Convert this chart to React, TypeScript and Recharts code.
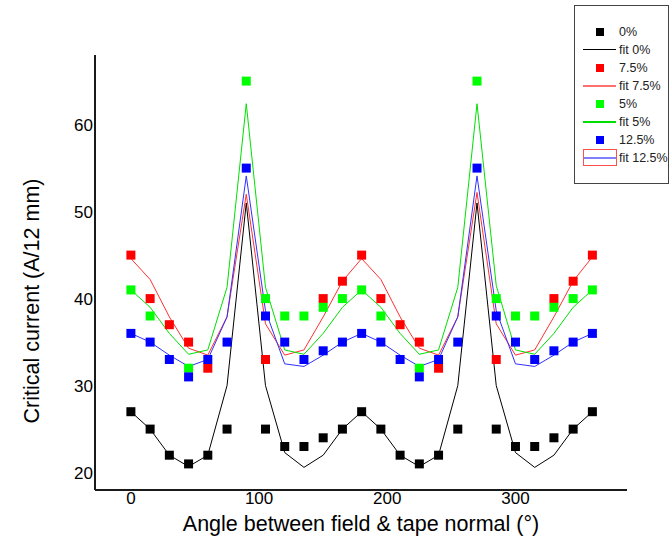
import React from "react";
import { ComposedChart, Line, Scatter, XAxis, YAxis, ZAxis, Legend } from "recharts";

// angle between field and tape normal, degrees
const angles = [0, 15, 30, 45, 60, 75, 90, 105, 120, 135, 150, 165, 180, 195, 210, 225, 240, 255, 270, 285, 300, 315, 330, 345, 360];

// measured critical current (null = point hidden behind another series)
const meas0 = [27, 25, 22, 21, 22, 25, null, 25, 23, 23, 24, 25, 27, 25, 22, 21, 22, 25, null, 25, 23, 23, 24, 25, 27];
const meas75 = [45, 40, 37, 35, 32, null, null, 33, null, null, 40, 42, 45, 40, 37, 35, 32, null, null, 33, null, null, 40, 42, 45];
const meas5 = [41, 38, null, 32, null, null, 65, 40, 38, 38, 39, 40, 41, 38, null, 32, null, null, 65, 40, 38, 38, 39, 40, 41];
const meas125 = [36, 35, 33, 31, 33, 35, 55, 38, 35, 33, 34, 35, 36, 35, 33, 31, 33, 35, 55, 38, 35, 33, 34, 35, 36];

// fitted curves
const fit0 = [27, 25, 22, 20.7, 22, 30, 51, 30, 22.3, 20.6, 22, 25, 27, 25, 22, 20.7, 22, 30, 51, 30, 22.3, 20.6, 22, 25, 27];
const fit75 = [44.6, 42.2, 37.9, 34.3, 33.5, 37.9, 52, 37.1, 33.5, 34.1, 37.9, 42, 44.6, 42.2, 37.9, 34.3, 33.5, 37.9, 52.2, 37.1, 33.5, 34.1, 37.9, 42, 44.8];
const fit5 = [41, 39, 36, 33.6, 34.1, 41.3, 62.4, 41.3, 34.1, 33.6, 36, 39, 41, 39, 36, 33.6, 34.1, 41.3, 62.4, 41.5, 34.1, 33.6, 36, 39, 41];
const fit125 = [36, 35, 33.5, 32.2, 33, 37.9, 54.1, 38.6, 32.5, 32.2, 33.5, 35, 36, 35, 33.5, 32.2, 33, 37.9, 54.1, 38.6, 32.5, 32.2, 33.5, 35, 36];

const xTicks = [0, 100, 200, 300];
const yTicks = [20, 30, 40, 50, 60];

const legendItems = [
  { label: "0%", kind: "square", color: "#000000" },
  { label: "fit 0%", kind: "line", color: "#000000" },
  { label: "7.5%", kind: "square", color: "#ff0000" },
  { label: "fit 7.5%", kind: "line", color: "#ff7070" },
  { label: "5%", kind: "square", color: "#00ff00" },
  { label: "fit 5%", kind: "line", color: "#00e000" },
  { label: "12.5%", kind: "square", color: "#0000ff" },
  { label: "fit 12.5%", kind: "boxed", color: "#8080ff" },
];

const font = "'Liberation Sans', Arial, sans-serif";

const table = angles.map((a, i) => ({
  angle: a,
  fit0: fit0[i],
  fit75: fit75[i],
  fit5: fit5[i],
  fit125: fit125[i],
}));

const points = (vals: (number | null)[]) =>
  angles.map((a, i) => ({ angle: a, value: vals[i] })).filter((d) => d.value !== null);

function LegendBox() {
  return (
    <div
      style={{
        position: "relative",
        width: 95,
        height: 179,
        border: "1px solid #444",
        boxSizing: "border-box",
        background: "#fff",
        fontFamily: font,
        fontSize: 12.5,
        color: "#222",
      }}
    >
      {legendItems.map((item, i) => {
        const top = 17 + i * 18;
        const thick = item.color === "#000000" ? 1 : 2;
        return (
          <div key={item.label} style={{ position: "absolute", left: 0, top, width: 93, height: 18 }}>
            {item.kind === "square" && (
              <div style={{ position: "absolute", left: 21, top: 5, width: 8, height: 8, background: item.color }} />
            )}
            {item.kind === "line" && (
              <div style={{ position: "absolute", left: 8, top: 8, width: 33, height: thick, background: item.color }} />
            )}
            {item.kind === "boxed" && (
              <div
                style={{
                  position: "absolute",
                  left: 8,
                  top: 0,
                  width: 34,
                  height: 17,
                  border: "1px solid #ff5050",
                  boxSizing: "border-box",
                }}
              >
                <div style={{ position: "absolute", left: 0, top: 7, width: 32, height: 2, background: item.color }} />
              </div>
            )}
            <span style={{ position: "absolute", left: 44, top: 2, whiteSpace: "nowrap", lineHeight: "14px" }}>
              {item.label}
            </span>
          </div>
        );
      })}
    </div>
  );
}

export default function App() {
  return (
    <div style={{ position: "absolute", left: 0, top: 0, width: 670, height: 541, background: "#fff" }}>
      <ComposedChart width={670} height={541} data={table} margin={{ top: 55, right: 43, bottom: 21, left: 35 }}>
        <XAxis
          type="number"
          dataKey="angle"
          domain={[-28, 387]}
          ticks={xTicks}
          height={30}
          axisLine={{ stroke: "#1a1a1a", strokeWidth: 2 }}
          tickLine={false}
          tickSize={0}
          tickMargin={2}
          tick={{ fill: "#000", fontSize: 17, fontFamily: font }}
        />
        <YAxis
          type="number"
          domain={[18, 68]}
          ticks={yTicks}
          width={60}
          axisLine={{ stroke: "#1a1a1a", strokeWidth: 2 }}
          tickLine={false}
          tickSize={0}
          tickMargin={2}
          tick={{ fill: "#000", fontSize: 17, fontFamily: font }}
        />
        <ZAxis range={[81, 81]} />
        <Scatter data={points(meas0)} dataKey="value" fill="#000000" shape="square" isAnimationActive={false} />
        <Line dataKey="fit0" stroke="#000000" strokeWidth={1} dot={false} isAnimationActive={false} />
        <Scatter data={points(meas75)} dataKey="value" fill="#ff0000" shape="square" isAnimationActive={false} />
        <Line dataKey="fit75" stroke="#ff3030" strokeWidth={1} dot={false} isAnimationActive={false} />
        <Scatter data={points(meas5)} dataKey="value" fill="#00ff00" shape="square" isAnimationActive={false} />
        <Line dataKey="fit5" stroke="#00e000" strokeWidth={1} dot={false} isAnimationActive={false} />
        <Scatter data={points(meas125)} dataKey="value" fill="#0000ff" shape="square" isAnimationActive={false} />
        <Line dataKey="fit125" stroke="#3030ff" strokeWidth={1} dot={false} isAnimationActive={false} />
        <Legend
          layout="vertical"
          align="center"
          verticalAlign="middle"
          wrapperStyle={{ left: 574, top: 5, width: 95, height: 179 }}
          content={() => <LegendBox />}
        />
      </ComposedChart>
      <div
        style={{
          position: "absolute",
          left: 32,
          top: 301,
          transform: "translate(-50%, -50%) rotate(-90deg)",
          whiteSpace: "nowrap",
          fontFamily: font,
          fontSize: 21.5,
          color: "#000",
        }}
      >
        Critical current (A/12 mm)
      </div>
      <div
        style={{
          position: "absolute",
          left: 361,
          top: 524,
          transform: "translate(-50%, -50%)",
          whiteSpace: "nowrap",
          fontFamily: font,
          fontSize: 21.5,
          color: "#000",
        }}
      >
        Angle between field &amp; tape normal (°)
      </div>
    </div>
  );
}
